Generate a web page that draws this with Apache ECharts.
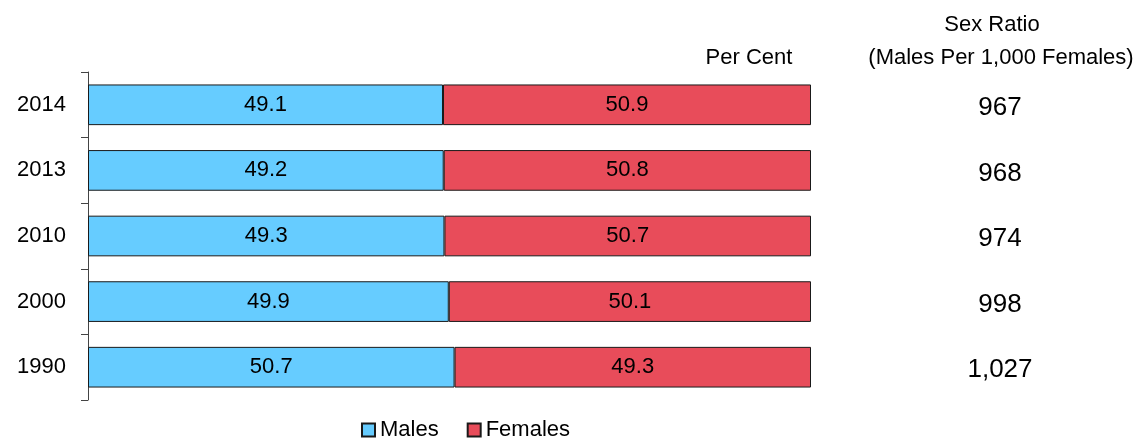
<!DOCTYPE html>
<html><head><meta charset="utf-8">
<script src="https://cdn.jsdelivr.net/npm/echarts@6/dist/echarts.min.js"></script>
<style>html,body{margin:0;padding:0;background:#fff}#c{width:1145px;height:439px}</style>
</head><body><div id="c"></div>
<script>
const years = ['2014','2013','2010','2000','1990'];
const males = [49.1, 49.2, 49.3, 49.9, 50.7];
const females = [50.9, 50.8, 50.7, 50.1, 49.3];
const sexRatio = ['967','968','974','998','1,027'];

const FONT = 'Liberation Sans, Arial, sans-serif';
const TXT = '#000';
const chart = echarts.init(document.getElementById('c'));
chart.setOption({
  animation: false,
  textStyle: {fontFamily: FONT},
  title: [
    {text: 'Per Cent', left: 744, top: 42, textAlign: 'center', textStyle: {fontSize: 22, fontWeight: 'normal', color: TXT, fontFamily: FONT}},
    {text: 'Sex Ratio', left: 987, top: 9, textAlign: 'center', textStyle: {fontSize: 22, fontWeight: 'normal', color: TXT, fontFamily: FONT}},
    {text: '(Males Per 1,000 Females)', left: 996, top: 42, textAlign: 'center', textStyle: {fontSize: 22, fontWeight: 'normal', color: TXT, fontFamily: FONT}}
  ],
  legend: {
    top: 419, left: 361, padding: 0, itemWidth: 13, itemHeight: 13, itemGap: 28,
    icon: 'rect',
    textStyle: {fontSize: 22, color: TXT, fontFamily: FONT, padding: [0,0,0,0]},
    data: [{name: 'Males'}, {name: 'Females'}]
  },
  grid: {left: 88, right: 334, top: 72, bottom: 39, containLabel: false},
  xAxis: {type: 'value', min: 0, max: 100, show: false},
  yAxis: {
    type: 'category', data: years, inverse: true,
    axisLine: {show: true, lineStyle: {color: '#444', width: 1}},
    axisTick: {show: true, length: 7, lineStyle: {color: '#444'}},
    axisLabel: {fontSize: 22, color: TXT, margin: 22, fontFamily: FONT}
  },
  series: [
    {name: 'Males', type: 'bar', stack: 's', barWidth: '62%', data: males,
     itemStyle: {color: '#66CCFF', borderColor: '#1a1a1a', borderWidth: 1},
     label: {show: true, position: 'inside', fontSize: 22, color: TXT, fontFamily: FONT, formatter: p => p.value.toFixed(1)}},
    {name: 'Females', type: 'bar', stack: 's', barWidth: '62%', data: females,
     itemStyle: {color: '#E84C5A', borderColor: '#1a1a1a', borderWidth: 1},
     label: {show: true, position: 'inside', fontSize: 22, color: TXT, fontFamily: FONT, formatter: p => p.value.toFixed(1)}},
    {name: 'ratio', type: 'scatter', data: years.map((y, i) => [100, y]), symbolSize: 0, clip: false,
     silent: true, itemStyle: {opacity: 1},
     label: {show: true, position: 'inside', offset: [189, 3], align: 'center', fontSize: 26, color: TXT, fontFamily: FONT,
             formatter: p => sexRatio[p.dataIndex]}}
  ]
});
</script></body></html>
